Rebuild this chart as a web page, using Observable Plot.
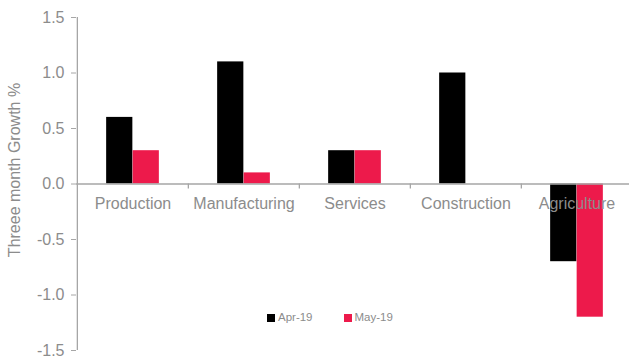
<!DOCTYPE html>
<html>
<head>
<meta charset="utf-8">
<script src="https://cdn.jsdelivr.net/npm/d3@7"></script>
<script src="https://cdn.jsdelivr.net/npm/@observablehq/plot@0.6"></script>
<style>
  html, body { margin: 0; padding: 0; background: #fff; }
  #wrap { position: relative; width: 629px; height: 356px; font-family: "Liberation Sans", Arial, sans-serif; }
  .legend { position: absolute; top: 310px; left: 267px; display: flex; font-size: 11.5px; color: #8c8c8c; line-height: 14px; }
  .legend .item { display: flex; align-items: center; margin-right: 31px; }
  .legend .sw { width: 8px; height: 8px; margin-right: 3px; margin-top: 1px; }
</style>
</head>
<body>
<div id="wrap"></div>
<script>
const categories = ["Production", "Manufacturing", "Services", "Construction", "Agriculture"];
const seriesNames = ["Apr-19", "May-19"];
const apr19 = [0.6, 1.1, 0.3, 1.0, -0.7];
const may19 = [0.3, 0.1, 0.3, 0.0, -1.2];
const seriesColors = ["#000000", "#ED1A4B"];
const yTicks = [-1.5, -1.0, -0.5, 0.0, 0.5, 1.0, 1.5];
const yTitle = "Threee month Growth %";

const data = [];
categories.forEach((c, i) => {
  data.push({category: c, series: seriesNames[0], value: apr19[i]});
  data.push({category: c, series: seriesNames[1], value: may19[i]});
});

const W = 629, H = 356;
const xLeft = 76, xRight = 632.5;
const step = (xRight - xLeft) / categories.length;
const barW = 26.5;
const inset = (step - barW) / 2;
const grey = "#8c8c8c";
const lineGrey = "#a6a6a6";

const chart = Plot.plot({
  width: W,
  height: H,
  marginLeft: xLeft,
  marginRight: 0,
  marginTop: 17,
  marginBottom: 6,
  style: {fontFamily: "Liberation Sans, Arial, sans-serif", background: "#fff"},
  x: {domain: categories, range: [xLeft, xRight], padding: 0, axis: null},
  y: {domain: [-1.5, 1.5], range: [350, 17], axis: null},
  marks: [
    Plot.barY(data.filter(d => d.series === seriesNames[0]), {
      x: "category", y: "value", fill: seriesColors[0],
      insetLeft: inset, insetRight: inset, dx: -barW / 2
    }),
    Plot.barY(data.filter(d => d.series === seriesNames[1]), {
      x: "category", y: "value", fill: seriesColors[1],
      insetLeft: inset, insetRight: inset, dx: barW / 2
    }),
    Plot.ruleY([0], {stroke: lineGrey, strokeWidth: 1.3}),
    Plot.ruleX(categories.slice(1), {x: d => d, y1: 0, y2: -0.045, dx: -step / 2, stroke: lineGrey, strokeWidth: 1.3}),
    Plot.ruleX([categories[0]], {x: d => d, y1: -1.5, y2: 1.5, dx: -step / 2, stroke: lineGrey, strokeWidth: 1.3}),
    Plot.axisY({
      ticks: yTicks, tickSize: 5, tickPadding: 7, tickFormat: d => d.toFixed(1),
      stroke: lineGrey, color: grey, fontSize: 16, label: null
    }),
    Plot.text(categories, {x: d => d, y: 0, dy: 20, fill: grey, fontSize: 16}),
    Plot.text([yTitle], {frameAnchor: "left", textAnchor: "middle", dx: -62, dy: -14, rotate: -90, fill: grey, fontSize: 16})
  ]
});

const wrap = document.getElementById("wrap");
wrap.appendChild(chart);

const legend = document.createElement("div");
legend.className = "legend";
seriesNames.forEach((s, i) => {
  const item = document.createElement("div");
  item.className = "item";
  const sw = document.createElement("span");
  sw.className = "sw";
  sw.style.background = seriesColors[i];
  const t = document.createElement("span");
  t.textContent = s;
  item.appendChild(sw);
  item.appendChild(t);
  legend.appendChild(item);
});
wrap.appendChild(legend);
</script>
</body>
</html>
